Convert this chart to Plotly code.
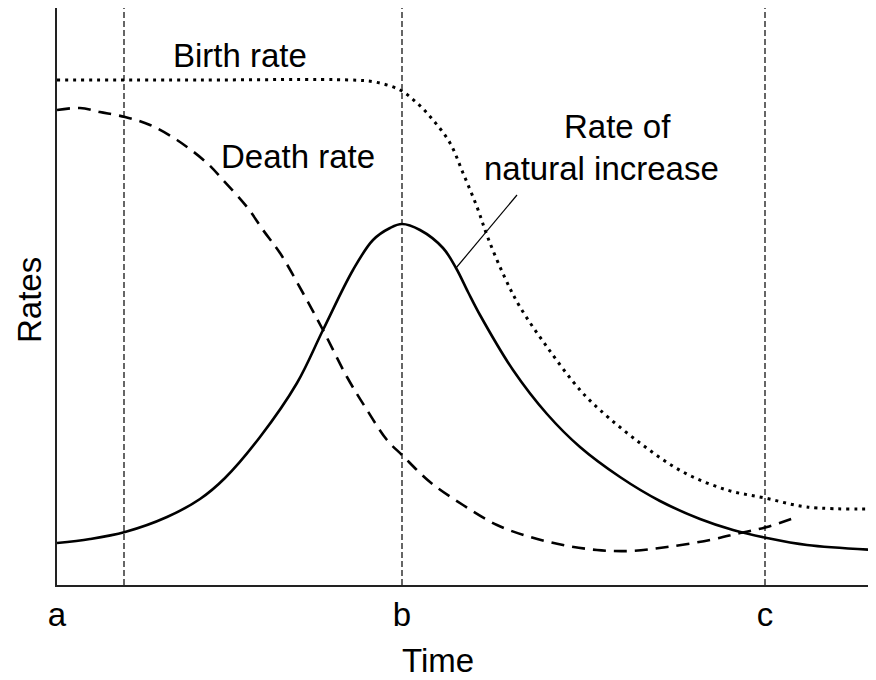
import plotly.graph_objects as go

# Pixel-based data coordinates: x = px - 57, y = 585 - py
X0, Y0, YTOP, XR = 57, 585, 8, 876

def cx(v):
    return [p - X0 for p in v]

def cy(v):
    return [Y0 - p for p in v]

# Birth rate (dotted)
birth_x = [57, 200, 350, 375, 400, 417, 433, 450, 463, 477, 488, 505, 520, 547, 580, 600, 640, 683, 727, 765, 807, 876]
birth_y = [80, 80, 80, 82, 90, 103, 120, 143, 173, 207, 238, 278, 307, 347, 390, 410, 443, 472, 490, 498, 507, 509]

# Death rate (dashed)
death_x = [57, 80, 100, 125, 150, 177, 207, 223, 247, 263, 280, 303, 323, 347, 367, 387, 402, 430, 463, 497, 530, 563, 597, 630, 667, 710, 740, 767, 797]
death_y = [110, 108, 112, 117, 125, 140, 163, 180, 207, 230, 253, 293, 330, 377, 410, 440, 455, 482, 505, 525, 537, 545, 550, 551, 547, 540, 533, 527, 517]

# Rate of natural increase (solid)
nat_x = [57, 90, 125, 167, 200, 225, 260, 297, 323, 353, 373, 390, 402, 420, 443, 456, 468, 480, 513, 547, 580, 620, 660, 700, 733, 767, 807, 876]
nat_y = [543, 539, 532, 517, 499, 478, 437, 383, 330, 270, 240, 228, 224, 230, 248, 268, 292, 315, 370, 414, 447, 477, 501, 519, 530, 538, 545, 550]

# Period markers
marker_x = [124, 402, 765]
tick_x = [57, 402, 765]
tick_text = ["a", "b", "c"]

FONT = "Liberation Sans, Arial, Helvetica, sans-serif"
FS = 33

# page body has an 8px margin; compensate so the plot lands where the reference has it
BODY = 8
W, H = 876 - BODY, 680 - BODY
PW, PH = XR - X0, Y0 - YTOP

fig = go.Figure()
fig.add_trace(go.Scatter(x=cx(birth_x), y=cy(birth_y), mode="lines", line=dict(color="black", width=3, dash="3px,5px", shape="spline", smoothing=1), hoverinfo="skip"))
fig.add_trace(go.Scatter(x=cx(death_x), y=cy(death_y), mode="lines", line=dict(color="black", width=2.6, dash="13px,8px", shape="spline", smoothing=1), hoverinfo="skip"))
fig.add_trace(go.Scatter(x=cx(nat_x), y=cy(nat_y), mode="lines", line=dict(color="black", width=2.6, shape="spline", smoothing=1), hoverinfo="skip"))

for mx in cx(marker_x):
    fig.add_shape(type="line", xref="x", yref="paper", x0=mx, x1=mx, y0=0, y1=1,
                  line=dict(color="black", width=1.2, dash="6px,3px"))

# leader line
lx = cx([517, 456])
ly = cy([195, 268])
fig.add_shape(type="line", xref="x", yref="y", x0=lx[0], y0=ly[0], x1=lx[1], y1=ly[1],
              line=dict(color="black", width=1.2))

def ann(text, px, py, **kw):
    fig.add_annotation(x=px - X0, y=Y0 - py, xref="x", yref="y", text=text, showarrow=False,
                       font=dict(family=FONT, size=FS, color="black"), xanchor="center", yanchor="middle", **kw)

def ann_paper(text, px, py, **kw):
    fig.add_annotation(x=(px - X0) / PW, y=(Y0 - py) / PH, xref="paper", yref="paper", text=text, showarrow=False,
                       font=dict(family=FONT, size=FS, color="black"), xanchor="center", yanchor="middle", **kw)

ann("Birth rate", 240, 55)
ann("Death rate", 298, 156)
ann("Rate of", 617, 126)
ann("natural increase", 601, 168)
ann_paper("Time", 438, 660)
ann_paper("Rates", 30, 300, textangle=-90)

fig.update_layout(
    width=W, height=H, autosize=False,
    margin=dict(l=X0 - BODY, r=0, t=YTOP - BODY, b=H - (Y0 - BODY), pad=0),
    paper_bgcolor="white", plot_bgcolor="white",
    showlegend=False,
    font=dict(family=FONT, size=FS, color="black"),
    xaxis=dict(range=[0, PW], showgrid=False, zeroline=False, showline=True,
               linecolor="#222", linewidth=1.5, tickmode="array", tickvals=cx(tick_x),
               ticktext=tick_text, ticks="", tickfont=dict(family=FONT, size=FS, color="black"),
               fixedrange=True),
    yaxis=dict(range=[0, PH], showgrid=False, zeroline=False, showline=True,
               linecolor="#222", linewidth=1.5, showticklabels=False, ticks="", fixedrange=True),
)

fig.write_html("out.html")
